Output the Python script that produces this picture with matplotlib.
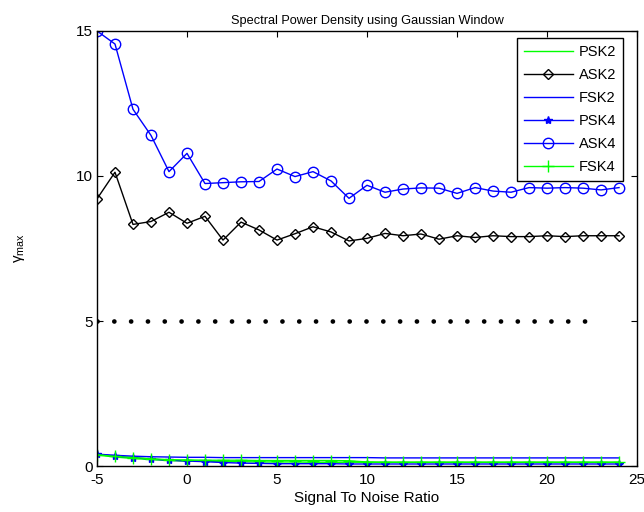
import matplotlib
matplotlib.use('Agg')
import matplotlib.pyplot as plt

plt.rcParams['font.family'] = ['Liberation Sans', 'DejaVu Sans']
plt.rcParams['mathtext.fontset'] = 'custom'
plt.rcParams['mathtext.rm'] = 'Liberation Sans'
plt.rcParams['axes.unicode_minus'] = False

# signal to noise ratio (dB)
snr = list(range(-5, 25))

psk2 = [0.38, 0.31, 0.26, 0.22, 0.19, 0.17, 0.17, 0.15, 0.15, 0.14,
        0.14, 0.14, 0.13, 0.13, 0.13, 0.13, 0.13, 0.13, 0.13, 0.13,
        0.13, 0.13, 0.13, 0.13, 0.13, 0.13, 0.13, 0.13, 0.13, 0.13]
ask2 = [9.21, 10.13, 8.33, 8.43, 8.75, 8.37, 8.61, 7.79, 8.41, 8.14,
        7.79, 8.01, 8.25, 8.07, 7.76, 7.85, 8.02, 7.94, 8.00, 7.82,
        7.94, 7.88, 7.94, 7.91, 7.91, 7.94, 7.91, 7.94, 7.94, 7.94]
fsk2 = [0.41, 0.37, 0.34, 0.32, 0.31, 0.30, 0.30, 0.29, 0.29, 0.29,
        0.29, 0.29, 0.29, 0.29, 0.29, 0.29, 0.28, 0.28, 0.28, 0.28,
        0.28, 0.28, 0.28, 0.28, 0.28, 0.28, 0.28, 0.28, 0.28, 0.28]
psk4 = [0.41, 0.34, 0.29, 0.24, 0.20, 0.17, 0.15, 0.12, 0.10, 0.09,
        0.08, 0.08, 0.08, 0.08, 0.07, 0.07, 0.07, 0.07, 0.07, 0.07,
        0.07, 0.07, 0.07, 0.07, 0.07, 0.07, 0.07, 0.07, 0.07, 0.07]
ask4 = [15.0, 14.55, 12.3, 11.4, 10.15, 10.78, 9.74, 9.77, 9.80, 9.81,
        10.24, 9.98, 10.15, 9.83, 9.23, 9.68, 9.44, 9.55, 9.59, 9.58,
        9.40, 9.60, 9.48, 9.44, 9.60, 9.58, 9.60, 9.58, 9.52, 9.60]
fsk4 = [0.39, 0.33, 0.29, 0.25, 0.22, 0.21, 0.20, 0.20, 0.20, 0.19,
        0.19, 0.19, 0.19, 0.19, 0.18, 0.14, 0.13, 0.13, 0.13, 0.13,
        0.13, 0.13, 0.13, 0.13, 0.13, 0.13, 0.13, 0.13, 0.13, 0.13]

# threshold line
thr_x = [-5, 22.1]
thr_y = [5, 5]

fig = plt.figure(figsize=(6.44, 5.12), dpi=100)
ax = fig.add_axes([0.1506, 0.0898, 0.8386, 0.8497])

ax.plot(snr, psk2, color=(0, 1, 0), lw=1, label='PSK2')
ax.plot(snr, ask2, color='k', lw=1, marker='D', ms=5.2, mfc='none', mew=1, label='ASK2')
ax.plot(snr, fsk2, color=(0, 0, 1), lw=1, label='FSK2')
ax.plot(snr, psk4, color=(0, 0, 1), lw=1, marker='*', ms=6, mew=1, label='PSK4')
ax.plot(snr, ask4, color=(0, 0, 1), lw=1, marker='o', ms=7.5, mfc='none', mew=1, label='ASK4')
ax.plot(snr, fsk4, color=(0, 1, 0), lw=1, marker='+', ms=8, mew=1, label='FSK4')
ax.plot(thr_x, thr_y, color='k', lw=3.4, linestyle=(0, (0.01, 3.55)),
        dash_capstyle='round')

ax.set_xlim(-5, 25)
ax.set_ylim(0, 15)
ax.set_xticks([-5, 0, 5, 10, 15, 20, 25])
ax.set_yticks([0, 5, 10, 15])
ax.tick_params(direction='in', top=True, right=True, labelsize=11, length=4,
               width=0.8)
ax.tick_params(axis='x', pad=5)
ax.tick_params(axis='y', pad=3)
for s in ax.spines.values():
    s.set_linewidth(1)

ax.set_title('Spectral Power Density using Gaussian Window', fontsize=9.2, pad=5)
ax.set_xlabel('Signal To Noise Ratio', fontsize=11, labelpad=3)
ax.set_ylabel('γ$_{\\mathrm{max}}$', fontsize=11)
ax.yaxis.set_label_coords(-0.13, 0.5)

leg = ax.legend(loc='upper right', bbox_to_anchor=(0.974, 0.983), fontsize=10.5,
                frameon=True, fancybox=False, edgecolor='k', framealpha=1,
                borderpad=0.45, labelspacing=0.62, handlelength=3.4, handletextpad=0.4,
                borderaxespad=0)
leg.get_frame().set_linewidth(1)

fig.savefig('out.png', dpi=100)
